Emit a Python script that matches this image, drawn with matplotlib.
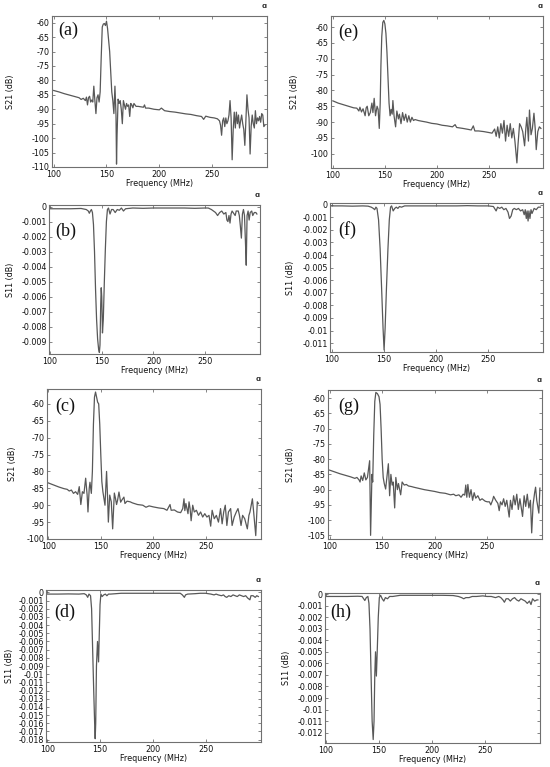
import numpy as np
import matplotlib
matplotlib.use("Agg")
import matplotlib.pyplot as plt

plt.rcParams['axes.unicode_minus'] = False
plt.rcParams['font.family'] = ['DejaVu Sans']

# ---------------- data ----------------
f_a = [100, 105, 110, 115, 120, 124, 126, 128, 130, 131, 132, 133, 134, 135, 136, 137, 138, 139, 140, 141,
       142, 143, 144, 145, 146, 147, 148, 149, 150, 151, 152, 153, 154, 155, 156, 157, 158, 159, 159.5, 160,
       161, 162, 163, 164, 165, 166, 167, 168, 169, 170, 171, 172, 173, 174, 175, 176, 178, 180, 185, 186,
       187, 190, 195, 200, 202, 205, 210, 215, 220, 225, 230, 235, 240, 242, 244, 248, 252, 255, 257, 258,
       259, 260, 261, 262, 263, 264, 265, 266, 267, 268, 269, 270, 271, 272, 273, 274, 275, 276, 277, 278,
       279, 280, 281, 282, 283, 284, 285, 286, 287, 288, 289, 290, 291, 292, 293, 294, 295, 296, 297, 298,
       299, 300]
s21_a = [-83.5, -84.0, -84.6, -85.1, -85.6, -86.0, -86.6, -86.2, -87.0, -85.8, -88.5, -86.0, -85.5, -87.5, -86.8, -87.5, -82.0, -87.0, -91.5, -86.0,
         -85.0, -87.5, -84.0, -72.0, -61.5, -60.5, -60.3, -61.0, -59.5, -62.0, -66.0, -70.0, -77.0, -84.0, -87.0, -91.5, -82.0, -92.0, -109.0, -99.0,
         -86.5, -88.0, -87.0, -90.0, -95.0, -87.0, -88.5, -90.0, -88.0, -89.0, -88.5, -92.5, -88.0, -88.5, -89.5, -88.0, -89.0, -89.0, -89.3, -88.5,
         -89.6, -89.6, -90.0, -90.2, -89.6, -90.5, -90.8, -91.0, -91.3, -91.6, -91.8, -92.2, -92.5, -93.5, -92.4, -92.8, -93.0, -93.3, -94.0, -95.5,
         -99.0, -94.0, -93.0, -96.0, -93.0, -95.0, -94.0, -92.0, -87.0, -93.0, -107.5, -97.0, -91.0, -96.5, -91.0, -95.0, -92.0, -96.5, -94.0, -92.0,
         -95.0, -97.0, -102.5, -94.0, -85.0, -90.0, -93.0, -105.5, -96.0, -92.0, -95.0, -96.5, -90.5, -95.0, -93.0, -94.0, -92.5, -94.5, -91.5, -92.0,
         -96.0, -95.5]

f_b = [100, 110, 120, 130, 135, 137, 138, 139, 140, 141, 142, 143, 144, 145, 146, 147, 147.7, 148.3, 149, 149.5,
       150, 150.7, 151.5, 152.5, 153.5, 154.5, 155.5, 156.5, 158, 159.5, 161, 163, 165, 167, 169, 171, 173, 180, 190, 200,
       210, 220, 230, 240, 250, 253, 256, 258, 260, 262, 264, 266, 268, 270, 271, 272, 273, 274, 275, 276,
       277, 279, 280, 282, 283, 284, 285, 286, 287, 288, 289, 289.7, 290.5, 291.5, 292.5, 293.5, 295, 296, 297.5, 299, 300]
s11_b = [-0.00015, -0.00015, -0.00015, -0.00013, -0.0002, -0.0003, -0.00045, -0.0003, -0.0002, -0.0004, -0.0012, -0.003, -0.0055, -0.0075, -0.0088, -0.0095, -0.0097, -0.0092, -0.0065, -0.0054,
         -0.006, -0.0084, -0.0075, -0.005, -0.0028, -0.001, -0.0002, -0.0001, -0.0005, -0.0002, -0.0002, -0.0004, -0.0002, -0.00025, -0.0001, -0.0003, -0.00015, -0.0001, -0.00012, -0.0001,
         -0.0001, -0.0001, -0.0001, -0.00012, -0.0001, -0.0001, -0.0002, -0.0003, -0.0004, -0.0006, -0.0004, -0.0003, -0.0005, -0.0004, -0.0009, -0.0010, -0.0006, -0.0011, -0.0005, -0.0003,
         -0.0004, -0.0006, -0.0003, -0.0003, -0.0006, -0.0013, -0.0021, -0.0005, -0.0002, -0.0006, -0.0025, -0.0039, -0.0006, -0.0003, -0.0009, -0.0004, -0.0003, -0.0006, -0.0004, -0.0004, -0.0005]

f_c = [100, 105, 110, 115, 118, 120, 122, 124, 126, 128, 129.5, 131, 132.5, 134, 135.6, 137, 137.8, 139, 139.7, 141,
       142, 143, 144, 145, 146, 147, 148, 149, 150, 151, 152, 153, 154, 155.5, 156.5, 157.2, 158.5, 160, 161.3, 162.9,
       164, 165, 166, 167.3, 168.9, 170, 172, 173, 175, 178, 180, 185, 190, 193, 196, 200, 205, 210, 213, 215.9,
       217, 220, 223, 226, 228, 229.2, 230, 231, 233, 234, 235, 236, 237.5, 239, 241, 243, 245, 247, 249, 251,
       253, 254.6, 256, 258, 260, 262, 264, 265.5, 267, 268.5, 270, 271.5, 273.6, 275, 277, 279, 280.6, 282, 283.5, 285,
       287, 289.5, 291, 292, 294.3, 295.5, 297.5, 299, 300]
s21_c = [-83.4, -84.0, -84.6, -85.1, -85.3, -85.8, -85.5, -86.5, -86.0, -86.8, -84.5, -89.8, -86.0, -86.5, -82.0, -87.0, -92.0, -85.0, -83.2, -86.5,
         -80.0, -66.0, -58.0, -56.5, -58.0, -59.5, -60.0, -66.0, -75.0, -83.0, -86.0, -88.0, -90.0, -80.0, -88.0, -95.0, -87.0, -89.0, -97.0, -86.4,
         -88.0, -89.8, -88.5, -86.1, -89.1, -88.5, -87.6, -89.5, -88.8, -89.0, -89.3, -89.8, -90.0, -90.6, -90.2, -90.5, -90.8, -91.0, -91.5, -89.8,
         -91.5, -91.4, -92.0, -92.2, -91.0, -88.1, -91.6, -89.5, -92.5, -89.0, -91.0, -94.6, -90.0, -92.0, -91.5, -93.0, -92.0, -93.5, -92.5, -93.5,
         -93.0, -96.2, -91.5, -94.0, -93.0, -95.0, -91.0, -95.5, -92.0, -90.0, -96.0, -92.0, -91.0, -96.0, -93.5, -92.0, -91.0, -93.0, -96.0, -93.0,
         -94.0, -97.0, -93.0, -92.0, -88.1, -92.0, -99.0, -89.0, -89.5]

f_d = [100, 110, 120, 130, 135, 137, 138.3, 139.5, 141, 142, 143, 144, 145, 145.4, 145.9, 146.6, 147.6, 148.6, 149.3, 150,
       150.8, 152, 153.5, 155, 156.5, 158, 160, 165, 170, 180, 190, 200, 210, 220, 226, 228, 229.9, 231, 233, 240,
       245, 250, 255, 258, 260, 262, 265, 267, 268.5, 270, 272, 274, 276, 278, 280, 282, 284, 286, 288, 290,
       292, 293, 295, 297, 298.5, 300]
s11_d = [-0.0002, -0.0002, -0.00018, -0.0002, -0.00015, -0.0003, -0.0006, -0.0002, -0.0004, -0.002, -0.007, -0.012, -0.0165, -0.0179, -0.016, -0.009, -0.006, -0.0085, -0.005, -0.0015,
         -0.0002, -0.0005, -0.0003, -0.0002, -0.0004, -0.0002, -0.0002, -0.00015, -0.0001, -0.0001, -0.0001, -0.0001, -0.0001, -0.0001, -0.0001, -0.0003, -0.0006, -0.0003, -0.0002, -0.00015,
         -0.0001, -0.0001, -0.0002, -0.0003, -0.0002, -0.0003, -0.0004, -0.0003, -0.0005, -0.0006, -0.0004, -0.0005, -0.0003, -0.0004, -0.0005, -0.0003, -0.0004, -0.0005, -0.0004, -0.0007,
         -0.0009, -0.0004, -0.0004, -0.0006, -0.0004, -0.0005]

f_e = [100, 105, 110, 115, 120, 123, 125, 126, 127.5, 129, 131, 132, 133, 134.5, 136, 137.5, 138.5, 139.7, 141, 142.5,
       143.5, 144.6, 145.5, 146.2, 147, 148, 149, 150, 151, 152, 153, 154, 155, 156, 157, 157.7, 158.8, 160.3, 161.5, 163,
       164, 165.5, 167, 168.5, 170, 171.5, 173, 174.5, 176, 177.5, 179, 182, 185, 190, 195, 200, 205, 210, 215, 217.5,
       219, 225, 230, 233, 235, 236.5, 240, 245, 250, 253, 255.5, 257, 258.5, 260, 261.5, 263, 264.5, 266, 267.5, 269,
       270.5, 272, 273.5, 275, 276.9, 278, 279.5, 281, 282.5, 284.3, 285.5, 286.5, 288, 289, 290.5, 291.8, 293.3, 294.5, 295.5, 297,
       298.5, 300]
s21_e = [-83.3, -84.0, -84.5, -85.0, -85.5, -85.6, -86.5, -85.3, -86.8, -85.8, -88.0, -85.5, -85.0, -88.0, -87.0, -84.0, -87.0, -82.5, -88.0, -85.0,
         -86.0, -92.0, -84.0, -72.0, -63.0, -58.5, -57.9, -59.0, -62.0, -68.0, -76.0, -84.0, -88.0, -86.0, -87.5, -83.2, -88.0, -91.5, -86.5, -89.0,
         -87.5, -90.5, -87.0, -89.5, -87.5, -90.0, -88.0, -90.0, -88.5, -89.5, -89.2, -89.5, -89.7, -90.0, -90.4, -90.6, -91.0, -91.2, -91.5, -90.8,
         -91.7, -92.0, -92.3, -92.5, -91.2, -92.8, -92.8, -93.0, -93.3, -93.5, -92.2, -94.5, -91.5, -95.0, -90.5, -93.5, -89.5, -96.0, -91.0, -94.5,
         -90.5, -95.0, -92.0, -96.0, -102.9, -97.0, -90.5, -91.5, -93.0, -97.5, -92.0, -88.5, -96.0, -86.2, -94.0, -92.0, -87.2, -92.0, -98.7, -93.0,
         -91.5, -92.0]

f_f = [100, 110, 120, 130, 135, 138, 140, 141.3, 142.5, 143.5, 145, 146.5, 148, 149.3, 150.3, 151.3, 152.5, 154, 155.3, 156.5,
       157.5, 159, 160.5, 162, 163.5, 165, 167, 170, 180, 190, 200, 210, 220, 230, 240, 250, 255, 257.6, 259, 261,
       263, 265, 267, 269, 270.4, 272, 273.5, 275, 277, 279, 281, 283, 284.5, 285.5, 286.5, 287.3, 288.2, 289, 290, 291,
       292, 294, 296, 298, 300]
s11_f = [-0.0001, -0.0001, -0.00012, -0.0001, -0.00012, -0.0002, -0.0003, -0.0004, -0.0002, -0.0003, -0.0012, -0.0035, -0.0068, -0.0098, -0.01154, -0.0098, -0.0068, -0.0035, -0.0012, -0.0002,
         -0.0001, -0.0005, -0.0003, -0.0002, -0.0003, -0.00015, -0.0002, -0.0001, -0.0001, -0.0001, -0.0001, -0.0001, -0.0001, -0.00008, -0.0001, -0.0001, -0.00015, -0.0005, -0.0002, -0.0003,
         -0.0002, -0.0004, -0.0003, -0.0006, -0.0011, -0.0009, -0.0004, -0.0003, -0.0004, -0.0003, -0.0005, -0.0004, -0.0008, -0.0004, -0.0011, -0.0005, -0.0013, -0.0005, -0.0011, -0.0004,
         -0.0007, -0.0003, -0.0004, -0.0002, -0.0002]

f_g = [100, 105, 110, 115, 120, 124, 126, 128, 129, 130, 131.5, 133, 134.5, 136, 138.1, 139, 140.3, 141, 142, 143,
       144, 145.5, 147, 148, 149, 150, 151, 152, 153.3, 155.9, 157.1, 158.3, 159.5, 160.5, 161.9, 163, 164.5, 165.5, 167.6, 169,
       171, 173, 175, 178, 180, 185, 190, 195, 200, 205, 210, 215, 218, 220, 223, 225, 227, 228.5, 229.5, 230.5,
       231.5, 233, 234.5, 236, 237.5, 239, 241, 243, 245, 248, 250, 252, 253.3, 255, 256, 258, 260, 261.3, 262.5, 264,
       265.5, 267, 268.5, 270.8, 272, 273.5, 275, 276.5, 278, 279.5, 281, 283.5, 285, 286.5, 288, 289.5, 291, 292.2, 293.5, 295,
       295.9, 297, 299, 300]
s21_g = [-83.6, -84.2, -84.8, -85.3, -85.8, -86.3, -86.0, -86.8, -87.5, -85.5, -87.0, -84.5, -86.8, -86.0, -80.5, -105.0, -85.0, -87.5, -72.0, -61.0,
         -58.1, -58.5, -59.5, -62.0, -70.0, -80.0, -86.0, -88.0, -89.8, -81.5, -92.0, -85.0, -88.5, -87.5, -96.0, -86.0, -90.0, -88.0, -91.7, -87.5,
         -88.5, -88.3, -88.8, -89.0, -89.2, -89.6, -90.0, -90.3, -90.6, -91.0, -91.2, -91.7, -91.5, -92.0, -91.7, -92.5, -91.5, -91.8, -88.5, -92.5,
         -88.3, -92.5, -90.0, -93.5, -91.0, -92.8, -92.0, -93.5, -93.0, -93.8, -94.0, -94.0, -95.0, -93.5, -92.2, -93.5, -94.5, -96.9, -94.0, -95.0,
         -93.0, -95.5, -93.5, -99.0, -93.5, -96.5, -92.0, -95.0, -91.5, -96.5, -93.0, -98.8, -92.0, -95.5, -91.5, -96.0, -93.5, -104.2, -95.0, -91.0,
         -89.2, -93.5, -97.7, -89.5]

f_h = [100, 110, 120, 130, 134, 136.6, 138, 139.5, 140.5, 141.5, 142.5, 143.5, 144.5, 145.3, 146, 146.7, 147.5, 148.3, 149.3, 150.3,
       151.5, 153, 154.5, 156, 158, 160, 163, 170, 180, 190, 200, 210, 220, 225, 228, 230, 232, 235, 238, 242,
       248, 252, 256, 260, 263, 265, 267, 268.4, 270, 272, 274, 276, 278, 280, 282, 284, 286, 288, 290, 292,
       293.5, 295, 297, 299, 300]
s11_h = [-0.0002, -0.0002, -0.0002, -0.00018, -0.0002, -0.00055, -0.0003, -0.0002, -0.0008, -0.003, -0.007, -0.011, -0.0126, -0.011, -0.007, -0.005, -0.0071, -0.005, -0.002, -0.0003,
         -0.0001, -0.0004, -0.0006, -0.0003, -0.0004, -0.0002, -0.0002, -0.0001, -0.0001, -0.0001, -0.0001, -0.0001, -0.00012, -0.0002, -0.0003, -0.0004, -0.0003, -0.0003, -0.0002, -0.0002,
         -0.00015, -0.0002, -0.0002, -0.0003, -0.0002, -0.0003, -0.0005, -0.0007, -0.0004, -0.0004, -0.0006, -0.0004, -0.0003, -0.0005, -0.0006, -0.0004, -0.0005, -0.0006, -0.0008, -0.0006,
         -0.0009, -0.0004, -0.0006, -0.0005, -0.0005]

x_ticks = [100, 150, 200, 250]
panel_labels = ['(a)', '(b)', '(c)', '(d)', '(e)', '(f)', '(g)', '(h)']
y_labels = ['S21 (dB)', 'S11 (dB)', 'S21 (dB)', 'S11 (dB)', 'S21 (dB)', 'S11 (dB)', 'S21 (dB)', 'S11 (dB)']
x_label = 'Frequency (MHz)'

series = [(f_a, s21_a), (f_b, s11_b), (f_c, s21_c), (f_d, s11_d),
          (f_e, s21_e), (f_f, s11_f), (f_g, s21_g), (f_h, s11_h)]

# y tick ranges: (top, bottom, step)
ytick_spec = [(-60, -110, 5), (0, -0.009, 0.001), (-60, -100, 5), (0, -0.018, 0.001),
              (-60, -100, 5), (0, -0.011, 0.001), (-60, -105, 5), (0, -0.012, 0.001)]
ylims = [(-110, -57.7), (-0.0098, 0.0001), (-100, -55.6), (-0.0183, 0.0003),
         (-104.5, -56.5), (-0.0117, 0.00013), (-106.2, -57.3), (-0.0129, 0.0001)]
xlims = [(98.4, 302), (99, 303), (98.8, 302.5), (98.8, 302.5),
         (98.2, 302), (98.5, 302.5), (98.5, 302), (99, 302)]

# ---------------- layout (pixel boxes: left, top, right, bottom) ----------------
W, H = 550, 767
boxes = [(52, 16, 267, 167), (49, 205, 260, 354), (47, 389, 261, 539), (46, 590, 261, 742),
         (331, 16, 543, 168), (330, 203, 543, 352), (328, 390, 542, 539), (325, 593, 540, 743)]
ylab_x = [12, 12, 13, 11, 295, 292, 292, 288]
lab_pos = [(0.03, 0.96), (0.03, 0.88), (0.04, 0.94), (0.04, 0.91),
           (0.035, 0.95), (0.04, 0.88), (0.047, 0.95), (0.023, 0.93)]

fig = plt.figure(figsize=(W / 100, H / 100), dpi=100)
fig.patch.set_facecolor('white')

line_color = '#585858'
spine_color = '#707070'
fs = 5.8

for i, (fx, fy) in enumerate(series):
    l, t, r, b = boxes[i]
    ax = fig.add_axes([l / W, 1 - b / H, (r - l) / W, (b - t) / H])
    ax.plot(fx, fy, color=line_color, lw=0.9)
    ax.set_xlim(*xlims[i])
    ax.set_ylim(*ylims[i])
    ax.set_xticks(x_ticks)
    ax.set_xticklabels([str(v) for v in x_ticks])
    top, bot, step = ytick_spec[i]
    n = int(round((top - bot) / step)) + 1
    yt = [round(top - k * step, 6) for k in range(n)]
    ax.set_yticks(yt)
    ax.set_yticklabels(['%g' % v for v in yt])
    ax.tick_params(direction='in', length=2.2, width=0.5, colors='#555555',
                   labelsize=fs, labelcolor='#111111', pad=1.5,
                   top=True, right=True)
    ax.tick_params(axis='x', pad=2.4)
    for s in ax.spines.values():
        s.set_color(spine_color)
        s.set_linewidth(0.8)
    ax.set_xlabel(x_label, fontsize=fs, color='#111111')
    ax.xaxis.set_label_coords(0.5, -(178 - 167) / 151 - 0.005)
    ax.set_ylabel(y_labels[i], fontsize=fs, color='#111111')
    ax.yaxis.set_label_coords((ylab_x[i] + 3.5 - l) / (r - l), 0.5)
    ax.text(lab_pos[i][0], lab_pos[i][1], panel_labels[i], transform=ax.transAxes,
            ha='left', va='top', fontsize=13, family='Liberation Serif', color='#111111')
    ax.text(0.985, 1.065, '\u0251', transform=ax.transAxes, ha='center', va='center',
            fontsize=5, color='#333333', fontweight='bold')

fig.savefig('out.png', dpi=100, facecolor='white')
